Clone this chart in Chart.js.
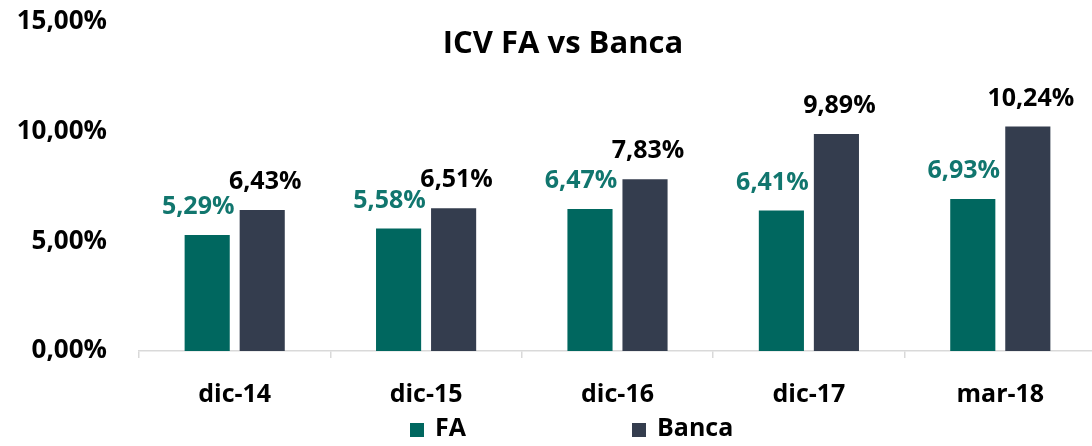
<!DOCTYPE html>
<html>
<head>
<meta charset="utf-8">
<script src="https://cdn.jsdelivr.net/npm/chart.js@4/dist/chart.umd.min.js"></script>
<style>
  html, body { margin: 0; padding: 0; background: #fff; overflow: hidden; }
  #wrap { width: 1100px; height: 446px; }
</style>
</head>
<body>
<div id="wrap"><canvas id="chart"></canvas></div>
<script>
// data
const categories = ["dic-14", "dic-15", "dic-16", "dic-17", "mar-18"];
const faValues = [5.29, 5.58, 6.47, 6.41, 6.93];
const bancaValues = [6.43, 6.51, 7.83, 9.89, 10.24];
const yTicks = [0, 5, 10, 15];

const FONT = "'Open Sans', Lato, sans-serif";
const TEAL = "#00675F";
const SLATE = "#343D4E";

// format 5.29 -> "5,29%"
function pct(v) {
  return v.toFixed(2).replace(".", ",") + "%";
}

// value labels above the bars
const barLabels = {
  id: "barLabels",
  afterDatasetsDraw(chart) {
    const ctx = chart.ctx;
    ctx.save();
    ctx.font = "bold 25px " + FONT;
    ctx.textAlign = "center";
    ctx.textBaseline = "middle";
    chart.data.datasets.forEach((ds, i) => {
      const meta = chart.getDatasetMeta(i);
      meta.data.forEach((bar, j) => {
        ctx.fillStyle = ds.labelColor;
        ctx.fillText(pct(ds.data[j]), bar.x + ds.labelShift, bar.y - 28);
      });
    });
    ctx.restore();
  }
};

// title and legend drawn like the Excel original
const extras = {
  id: "extras",
  afterDraw(chart) {
    const ctx = chart.ctx;
    ctx.save();
    ctx.fillStyle = "#000";
    ctx.font = "bold 31px " + FONT;
    ctx.textAlign = "center";
    ctx.textBaseline = "middle";
    ctx.fillText("ICV FA vs Banca", 563, 44);

    const legendX = [410, 632];
    ctx.font = "bold 25px " + FONT;
    ctx.textAlign = "left";
    chart.data.datasets.forEach((ds, i) => {
      ctx.fillStyle = ds.backgroundColor;
      ctx.fillRect(legendX[i], 423, 14, 14);
      ctx.fillStyle = "#000";
      ctx.fillText(ds.label, legendX[i] + 25, 429);
    });
    ctx.restore();
  }
};

new Chart(document.getElementById("chart"), {
  type: "bar",
  data: {
    labels: categories,
    datasets: [
      { label: "FA", data: faValues, backgroundColor: TEAL, labelColor: "#11766E", labelShift: -9 },
      { label: "Banca", data: bancaValues, backgroundColor: SLATE, labelColor: "#000", labelShift: 3 }
    ]
  },
  options: {
    responsive: true,
    maintainAspectRatio: false,
    animation: false,
    layout: { padding: { top: 22, right: 4, bottom: 0, left: 0 } },
    categoryPercentage: 0.575,
    barPercentage: 0.82,
    plugins: {
      legend: { display: false },
      tooltip: { enabled: false }
    },
    scales: {
      x: {
        grid: { drawOnChartArea: false, drawTicks: true, tickLength: 7, color: "#D9D9D9", lineWidth: 1.5 },
        border: { color: "#D9D9D9", width: 1.5 },
        ticks: { color: "#000", padding: 22, font: { family: FONT, size: 25, weight: "bold" } },
        afterFit(scale) { scale.height = 95; }
      },
      y: {
        min: 0,
        max: 15,
        afterBuildTicks(scale) { scale.ticks = yTicks.map(v => ({ value: v })); },
        grid: { display: false },
        border: { display: false },
        ticks: {
          color: "#000",
          padding: 24,
          font: { family: FONT, size: 26, weight: "bold" },
          callback: v => pct(v)
        },
        afterFit(scale) {
          scale.width = 139;
          scale.paddingTop = 0;
          scale.paddingBottom = 0;
        }
      }
    }
  },
  plugins: [barLabels, extras]
});
</script>
</body>
</html>
